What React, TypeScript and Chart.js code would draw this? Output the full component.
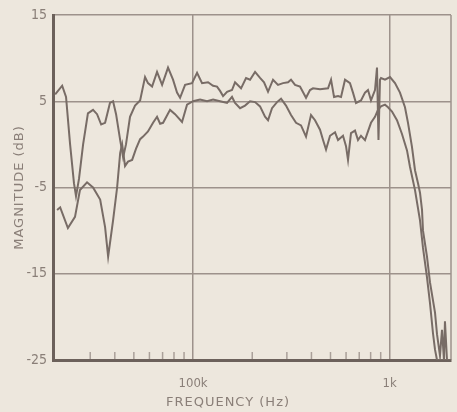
import React, { useEffect, useRef } from "react";
import { Chart, registerables } from "chart.js";

Chart.register(...registerables);

// X axis (log frequency) labelled ticks
const xTickValues = [100, 1000];
const xTickLabels = ["100k", "1k"];
const xMinorTicks = [30, 40, 50, 60, 70, 80, 90, 200, 300, 400, 500, 600, 700, 800, 900];
const xMin = 19.4;
const xMax = 2050;

// Y axis (dB)
const yMin = -25;
const yMax = 15;
const yStep = 10;

const xTitle = "FREQUENCY (Hz)";
const yTitle = "MAGNITUDE (dB)";

// Upper-midband curve
const freqA = [
  19.9, 21.6, 22.6, 23.7, 24.8, 25.4, 26.3, 27.6, 29.2, 31,
  32.5, 34.1, 35.7, 37.8, 39.2, 40.6, 42.6, 44.1, 45.6, 47.8,
  50.7, 53.8, 57, 59, 61.9, 65.6, 69.6, 74.6, 79.1, 82.9,
  85.9, 91.1, 98.8, 104.8, 111.1, 119.2, 126.4, 132.4, 137.2, 142.1,
  148.9, 157.8, 163.5, 175.4, 186, 194.9, 206.7, 219.1, 229.6, 240.6,
  255.1, 270.4, 286.8, 304.1, 314.9, 330.1, 349.9, 375.4, 393.3, 407.4,
  442.2, 485.8, 503.2, 521.2, 546.1, 565.6, 592.6, 628.2, 650.6, 674,
  714.6, 748.9, 775.6, 803.3, 841.9, 861.8, 877, 892.7, 903.2, 946.4,
  1003.5, 1063.9, 1128, 1196, 1239, 1298, 1345, 1393, 1426, 1460,
  1477, 1547, 1603, 1700, 1740, 1802, 1845, 1888, 1910, 1956,
  2026,
];
const magA = [
  5.8, 6.8, 5.5, 0, -4.5, -6, -4, 0, 3.6, 4,
  3.5, 2.3, 2.5, 4.8, 5, 3.5, 0.5, -1.5, 0, 3.2,
  4.5, 5.1, 7.8, 7.1, 6.7, 8.4, 6.9, 8.9, 7.5, 6,
  5.4, 6.9, 7.1, 8.3, 7.1, 7.2, 6.8, 6.7, 6.2, 5.6,
  6.1, 6.3, 7.2, 6.5, 7.7, 7.5, 8.4, 7.7, 7.2, 6.1,
  7.5, 6.9, 7.1, 7.2, 7.5, 6.9, 6.7, 5.4, 6.3, 6.5,
  6.4, 6.5, 7.5, 5.5, 5.6, 5.5, 7.5, 7.1, 6, 4.8,
  5.1, 6, 6.3, 5.1, 6.3, 8.9, 0.5, 7.5, 7.7, 7.5,
  7.8, 7.1, 6, 4.3, 2.5, -0.3, -3, -4.5, -5.6, -7.6,
  -10, -13, -16, -19.5, -22, -24.5, -21.5, -25, -20.5, -25,
  -25,
];

// Lower-midband curve
const freqB = [
  20.35, 21.1, 23.1, 25.1, 26.6, 28.9, 31, 33.7, 35.7, 37,
  39.2, 41.1, 42.6, 43.6, 45.1, 46.7, 49, 51.3, 53.8, 55.7,
  59, 62.6, 65.6, 68, 70.4, 76.4, 81, 87.9, 93.2, 100,
  108.5, 117.8, 126.4, 137.2, 148.9, 157.8, 163.5, 173.4, 183.8, 194.9,
  206.7, 219.1, 232.3, 240.6, 252.1, 267.3, 280.2, 297, 314.9, 334,
  354, 375.4, 398, 417.1, 442.2, 458.2, 474.5, 497.3, 527.3, 546.1,
  578.9, 599.6, 613.8, 635.6, 666.1, 690, 714.6, 748.9, 775.6, 803.3,
  841.9, 872, 903.2, 946.4, 980.4, 1027.3, 1089.1, 1154.7, 1224.6, 1268,
  1345, 1426, 1477, 1547, 1603, 1660, 1700, 1740, 2050,
];
const magB = [
  -7.6, -7.3, -9.7, -8.4, -5.3, -4.4, -5, -6.4, -9.6, -13,
  -8.8, -5, -1, 0, -2.5, -2, -1.8, -0.5, 0.6, 0.9,
  1.5, 2.5, 3.2, 2.4, 2.5, 4, 3.5, 2.6, 4.6, 5,
  5.2, 5, 5.2, 5, 4.8, 5.5, 4.8, 4.2, 4.5, 5,
  4.9, 4.4, 3.2, 2.8, 4.2, 4.9, 5.3, 4.5, 3.4, 2.5,
  2.2, 0.9, 3.4, 2.8, 1.7, 0.5, -0.6, 1, 1.4, 0.5,
  1, -0.2, -1.8, 1.3, 1.6, 0.5, 1, 0.5, 1.5, 2.5,
  3.2, 4, 4.4, 4.6, 4.3, 3.8, 2.8, 1.2, -0.7, -2.6,
  -5.3, -8.8, -12, -15.4, -18.4, -21.9, -23.8, -25, -25,
];

const BG = "#ede7dd";
const CURVE = "#786c66";
const GRID = "#9d928b";
const AXIS = "#6c615b";
const TEXT = "#8a7f78";
const FONT = "'DejaVu Sans Condensed', 'DejaVu Sans', sans-serif";
const TITLE_FONT = "'DejaVu Sans', sans-serif";

const decorPlugin = {
  id: "decor",
  beforeDraw(chart: any) {
    const { ctx, width, height } = chart;
    ctx.save();
    ctx.fillStyle = BG;
    ctx.fillRect(0, 0, width, height);
    ctx.restore();
  },
  beforeDatasetsDraw(chart: any) {
    const { ctx, chartArea } = chart;
    const xs = chart.scales.x;
    ctx.save();
    ctx.strokeStyle = GRID;
    ctx.lineWidth = 1.5;
    ctx.beginPath();
    ctx.moveTo(chartArea.right, chartArea.top);
    ctx.lineTo(chartArea.right, chartArea.bottom);
    ctx.stroke();
    ctx.strokeStyle = "#aaa099";
    ctx.lineWidth = 1.5;
    xMinorTicks.forEach((v) => {
      const px = xs.getPixelForValue(v);
      ctx.beginPath();
      ctx.moveTo(px, chartArea.bottom - 1);
      ctx.lineTo(px, chartArea.bottom - 8);
      ctx.stroke();
    });
    ctx.restore();
  },
  afterDraw(chart: any) {
    const { ctx, chartArea } = chart;
    ctx.save();
    ctx.fillStyle = TEXT;
    ctx.font = `13px ${TITLE_FONT}`;
    (ctx as any).letterSpacing = "1px";
    ctx.textAlign = "center";
    ctx.textBaseline = "middle";
    ctx.fillText(xTitle, 228, 403);
    ctx.translate(20, (chartArea.top + chartArea.bottom) / 2);
    ctx.rotate(-Math.PI / 2);
    ctx.fillText(yTitle, 0, 0);
    ctx.restore();
  },
};

export default function App() {
  const ref = useRef<HTMLCanvasElement | null>(null);

  useEffect(() => {
    if (!ref.current) return;
    const chart = new Chart(ref.current, {
      type: "line",
      data: {
        datasets: [
          {
            data: freqA.map((f, i) => ({ x: f, y: magA[i] })),
            borderColor: CURVE,
            borderWidth: 2,
            pointRadius: 0,
            tension: 0,
          },
          {
            data: freqB.map((f, i) => ({ x: f, y: magB[i] })),
            borderColor: CURVE,
            borderWidth: 2,
            pointRadius: 0,
            tension: 0,
          },
        ],
      },
      options: {
        animation: false,
        responsive: false,
        maintainAspectRatio: false,
        layout: { padding: { left: 0, right: 6, top: 15, bottom: 0 } },
        plugins: {
          legend: { display: false },
          tooltip: { enabled: false },
        },
        scales: {
          x: {
            type: "logarithmic",
            min: xMin,
            max: xMax,
            afterBuildTicks: (s: any) => {
              s.ticks = xTickValues.map((v) => ({ value: v }));
            },
            afterFit: (s: any) => {
              s.height = 52;
            },
            ticks: {
              autoSkip: false,
              maxRotation: 0,
              padding: 16,
              color: TEXT,
              font: { family: FONT, size: 13 },
              callback: (v: any) => {
                const i = xTickValues.indexOf(Number(v));
                return i >= 0 ? xTickLabels[i] : "";
              },
            },
            grid: { color: GRID, lineWidth: 1.5, drawTicks: false },
            border: { color: AXIS, width: 3 },
          },
          y: {
            type: "linear",
            min: yMin,
            max: yMax,
            afterFit: (s: any) => {
              s.width = 53;
            },
            ticks: {
              stepSize: yStep,
              padding: 6,
              color: TEXT,
              font: { family: FONT, size: 14 },
            },
            grid: { color: GRID, lineWidth: 1.5, drawTicks: false },
            border: { color: AXIS, width: 3 },
          },
        },
      },
      plugins: [decorPlugin],
    });
    return () => chart.destroy();
  }, []);

  return (
    <div style={{ position: "fixed", left: 0, top: 0, width: 457, height: 412 }}>
      <canvas ref={ref} width={457} height={412} style={{ display: "block" }} />
    </div>
  );
}
